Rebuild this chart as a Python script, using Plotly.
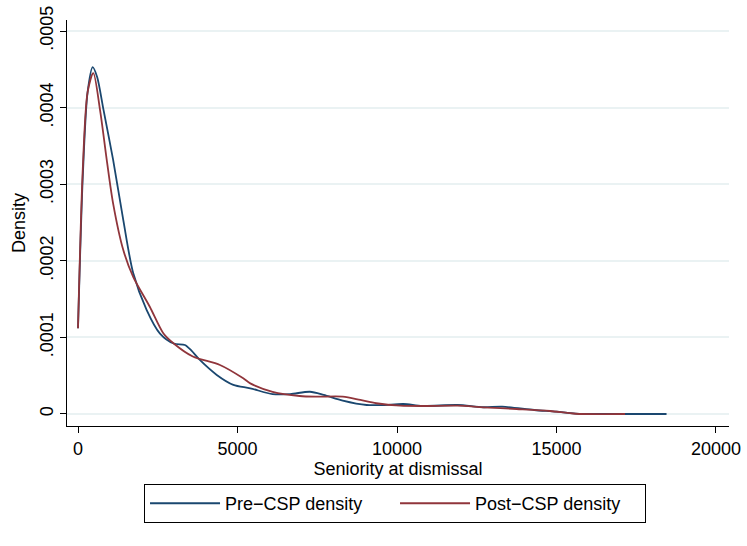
import plotly.graph_objects as go

# Pre-CSP density
pre_x = [0, 150, 300, 460, 600, 800, 1100, 1420, 1730, 2150, 2570, 3000, 3350, 3550,
         3820, 4350, 4870, 5400, 6100, 6650, 7270, 7700, 8300, 9050, 9570, 10200, 10800,
         11900, 12700, 13300, 14300, 15000, 15600, 16500, 18450]
pre_y = [0.000112, 0.00031, 0.00042, 0.000453, 0.00044, 0.000397, 0.000332, 0.000253,
         0.000184, 0.000136, 0.000105, 0.000092, 0.00009, 0.000083, 0.0000705, 0.000051,
         0.000038, 0.0000335, 0.000026, 0.000026, 0.000029, 0.000025, 0.0000175, 0.0000117,
         0.0000117, 0.000013, 0.0000105, 0.0000117, 0.0000088, 0.0000095, 0.0000052,
         0.000003, 0.0000005, 0.0, 0.0]

# Post-CSP density
post_x = [0, 150, 300, 480, 690, 900, 1100, 1420, 1730, 2250, 2680, 3000, 3600, 4450,
          5180, 5400, 6100, 6950, 7500, 8300, 8850, 9350, 10100, 10900, 11900, 12700,
          13750, 14800, 15600, 17150]
post_y = [0.000112, 0.00032, 0.00042, 0.000445, 0.000397, 0.000332, 0.000275, 0.000214,
          0.000179, 0.00014, 0.000105, 0.000092, 0.000075, 0.000064, 0.0000466, 0.00004,
          0.000029, 0.0000235, 0.0000226, 0.0000226, 0.0000183, 0.000014, 0.0000108,
          0.0000104, 0.0000108, 0.0000087, 0.0000065, 0.0000039, 0.0000003, 0.0]

x_ticks = [0, 5000, 10000, 15000, 20000]
x_tick_labels = ["0", "5000", "10000", "15000", "20000"]
y_ticks = [0, 0.0001, 0.0002, 0.0003, 0.0004, 0.0005]
y_tick_labels = ["0", ".0001", ".0002", ".0003", ".0004", ".0005"]

NAVY = "#1A476F"
MAROON = "#90353B"
FONT = "Liberation Sans, Arial, sans-serif"

fig = go.Figure()
fig.add_trace(go.Scatter(x=pre_x, y=pre_y, mode="lines", name="Pre\u2212CSP density",
                         line=dict(color=NAVY, width=1.8, shape="spline", smoothing=0.8)))
fig.add_trace(go.Scatter(x=post_x, y=post_y, mode="lines", name="Post\u2212CSP density",
                         line=dict(color=MAROON, width=1.8, shape="spline", smoothing=0.8)))

fig.update_layout(
    width=747, height=546,
    margin=dict(l=67, r=18, t=20, b=120, autoexpand=False),
    paper_bgcolor="white", plot_bgcolor="white",
    font=dict(family=FONT, size=18, color="black"),
    showlegend=True,
    legend=dict(orientation="h", x=0.4955, y=-0.143, xanchor="center", yanchor="top",
                bordercolor="black", borderwidth=1, bgcolor="white",
                font=dict(size=18), entrywidth=165, entrywidthmode="pixels",
                itemwidth=70, tracegroupgap=0),
)
fig.update_xaxes(range=[-345, 20408], tickvals=x_ticks, ticktext=x_tick_labels,
                 automargin=False,
                 showline=True, linecolor="black", linewidth=1,
                 ticks="outside", ticklen=6, tickcolor="black",
                 showgrid=False, zeroline=False,
                 title=dict(text="Seniority at dismissal", standoff=2,
                            font=dict(size=18)),
                 tickfont=dict(size=18))
fig.update_yaxes(range=[-0.0000157, 0.0005144], tickvals=y_ticks, ticktext=y_tick_labels,
                 tickangle=-90, automargin=False,
                 showline=True, linecolor="black", linewidth=1,
                 ticks="outside", ticklen=6, tickcolor="black",
                 showgrid=True, gridcolor="#EAF2F3", gridwidth=1.5, zeroline=False,
                 title=dict(text="Density", standoff=6, font=dict(size=18)),
                 tickfont=dict(size=18))

fig.write_html("out.html", config={"displayModeBar": False},
               post_script="document.body.style.margin='0';")
